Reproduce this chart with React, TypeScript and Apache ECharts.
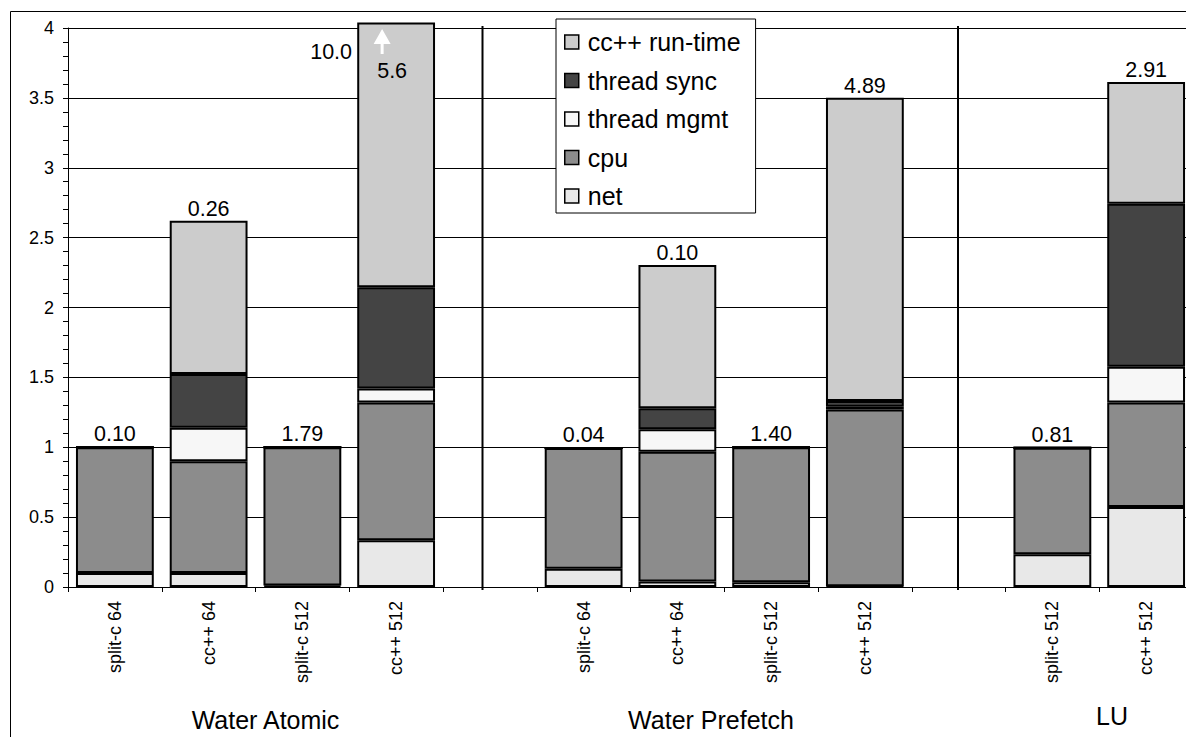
import React, { useEffect, useRef } from "react";
import * as echarts from "echarts";

const categories = [
  "split-c 64", "cc++ 64", "split-c 512", "cc++ 512", "",
  "split-c 64", "cc++ 64", "split-c 512", "cc++ 512", " ",
  "split-c 512", "cc++ 512",
];

// stacked components (bottom to top); "-" marks the empty gap slots
const netValues = [0.10, 0.10, 0.01, 0.335, "-", 0.13, 0.04, 0.034, 0.005, "-", 0.235, 0.573];
const cpuValues = [0.90, 0.80, 0.99, 0.985, "-", 0.865, 0.928, 0.966, 1.265, "-", 0.762, 0.747];
const mgmtValues = [0, 0.24, 0, 0.10, "-", 0, 0.16, 0, 0.02, "-", 0, 0.256];
const syncValues = [0, 0.385, 0, 0.725, "-", 0, 0.151, 0, 0.041, "-", 0, 1.167];
// WA cc++ 512 run-time is drawn truncated just above the axis maximum (true total 10.0)
const runtimeValues = [0, 1.095, 0, 1.895, "-", 0, 1.025, 0, 2.17, "-", 0, 0.871];

const topLabels = ["0.10", "0.26", "1.79", "", "", "0.04", "0.10", "1.40", "4.89", "", "0.81", "2.91"];

const brokenIndex = 3;
const brokenTotalLabel = "10.0";
const brokenInsideLabel = "5.6";

const groupNames = ["Water Atomic", "Water Prefetch", "LU"];

const yTicks = { min: 0, max: 4, interval: 0.5 };

const FONT = "'Liberation Sans', Arial, sans-serif";

const colors = {
  net: "#e8e8e8",
  cpu: "#8c8c8c",
  mgmt: "#f7f7f7",
  sync: "#444444",
  runtime: "#cccccc",
};

export default function App() {
  const ref = useRef<HTMLDivElement>(null);

  useEffect(() => {
    document.body.style.margin = "0";
    if (!ref.current) return;
    const chart = echarts.init(ref.current, undefined, { renderer: "svg" });

    const base = {
      type: "bar",
      stack: "total",
      barWidth: "83%",
      clip: false,
      itemStyle: { borderColor: "#000", borderWidth: 2 },
    };

    const runtimeData = runtimeValues.map((v, i) =>
      i === brokenIndex ? { value: v, label: { show: false } } : v
    );

    const textMark = (value: number, dx: number, text: string) => ({
      coord: [brokenIndex, value],
      symbol: "rect",
      symbolSize: 1,
      itemStyle: { color: "rgba(0,0,0,0)", borderWidth: 0 },
      label: {
        show: true,
        position: "inside",
        offset: [dx, 0],
        fontSize: 21.5,
        fontFamily: FONT,
        color: "#000",
        formatter: text,
      },
    });

    const option: any = {
      animation: false,
      backgroundColor: "#fff",
      textStyle: { fontFamily: FONT, color: "#000" },
      grid: { left: 68, top: 28, width: 1125, height: 559 },
      legend: {
        orient: "vertical",
        left: 556,
        top: 19,
        padding: [9, 15, 3, 8],
        itemWidth: 14,
        itemHeight: 14,
        itemGap: 10.5,
        backgroundColor: "#fff",
        borderColor: "#000",
        borderWidth: 1,
        borderRadius: 0,
        data: ["cc++ run-time", "thread sync", "thread mgmt", "cpu", "net"],
        icon: "rect",
        itemStyle: { borderColor: "#000", borderWidth: 1.5 },
        textStyle: { fontSize: 25, fontFamily: FONT, color: "#000", lineHeight: 28, padding: [0, 0, 0, 4] },
      },
      xAxis: {
        type: "category",
        data: categories,
        boundaryGap: true,
        axisLine: { lineStyle: { color: "#000", width: 1 } },
        axisTick: { show: true, interval: 0, length: 5, lineStyle: { color: "#000" } },
        axisLabel: {
          interval: 0,
          rotate: 90,
          margin: 14,
          fontSize: 18,
          fontFamily: FONT,
          color: "#000",
        },
        splitLine: { show: false },
      },
      yAxis: {
        type: "value",
        min: yTicks.min,
        max: yTicks.max,
        interval: yTicks.interval,
        axisLine: { show: true, lineStyle: { color: "#000", width: 1 } },
        axisTick: { show: true, length: 5, lineStyle: { color: "#000" } },
        minorTick: { show: true, splitNumber: 5, length: 5, lineStyle: { color: "#000" } },
        axisLabel: {
          margin: 14,
          fontSize: 18,
          fontFamily: FONT,
          color: "#000",
          formatter: (v: number) => String(v),
        },
        splitLine: { show: true, lineStyle: { color: "#000", width: 1 } },
        minorSplitLine: { show: false },
      },
      series: [
        { ...base, name: "net", data: netValues, itemStyle: { ...base.itemStyle, color: colors.net } },
        { ...base, name: "cpu", data: cpuValues, itemStyle: { ...base.itemStyle, color: colors.cpu } },
        { ...base, name: "thread mgmt", data: mgmtValues, itemStyle: { ...base.itemStyle, color: colors.mgmt } },
        { ...base, name: "thread sync", data: syncValues, itemStyle: { ...base.itemStyle, color: colors.sync } },
        {
          ...base,
          name: "cc++ run-time",
          data: runtimeData,
          itemStyle: { ...base.itemStyle, color: colors.runtime },
          label: {
            show: true,
            position: "top",
            distance: 1,
            fontSize: 21.5,
            fontFamily: FONT,
            color: "#000",
            formatter: (p: any) => topLabels[p.dataIndex] || "",
          },
          markPoint: {
            silent: true,
            animation: false,
            data: [
              {
                coord: [brokenIndex, 3.903],
                symbol: "path://M8.5,0 L17,15 L10,15 L10,25 L7,25 L7,15 L0,15 Z",
                symbolSize: [17, 25],
                symbolOffset: [-14, 0],
                itemStyle: { color: "#fff", borderWidth: 0 },
                label: { show: false },
              },
              textMark(3.695, -4, brokenInsideLabel),
              textMark(3.828, -65, brokenTotalLabel),
            ],
          },
        },
      ],
      graphic: [
        {
          type: "rect",
          silent: true,
          z: 100,
          shape: { x: 10.5, y: 11.5, width: 1400, height: 900 },
          style: { fill: "none", stroke: "#000", lineWidth: 1 },
        },
        {
          type: "line",
          silent: true,
          z: 50,
          shape: { x1: 482.5, y1: 26, x2: 482.5, y2: 590 },
          style: { stroke: "#000", lineWidth: 2 },
        },
        {
          type: "line",
          silent: true,
          z: 50,
          shape: { x1: 958, y1: 26, x2: 958, y2: 590 },
          style: { stroke: "#000", lineWidth: 2 },
        },
        {
          type: "text",
          x: 265.5,
          y: 720,
          style: { text: groupNames[0], fontSize: 25, fontFamily: FONT, fill: "#000", textAlign: "center", textVerticalAlign: "middle" },
        },
        {
          type: "text",
          x: 711,
          y: 720,
          style: { text: groupNames[1], fontSize: 25, fontFamily: FONT, fill: "#000", textAlign: "center", textVerticalAlign: "middle" },
        },
        {
          type: "text",
          x: 1112,
          y: 716,
          style: { text: groupNames[2], fontSize: 25, fontFamily: FONT, fill: "#000", textAlign: "center", textVerticalAlign: "middle" },
        },
      ],
    };

    chart.setOption(option);
    return () => chart.dispose();
  }, []);

  return (
    <div style={{ width: 1186, height: 737, overflow: "hidden", background: "#fff" }}>
      <div ref={ref} style={{ width: 1210, height: 737 }} />
    </div>
  );
}
